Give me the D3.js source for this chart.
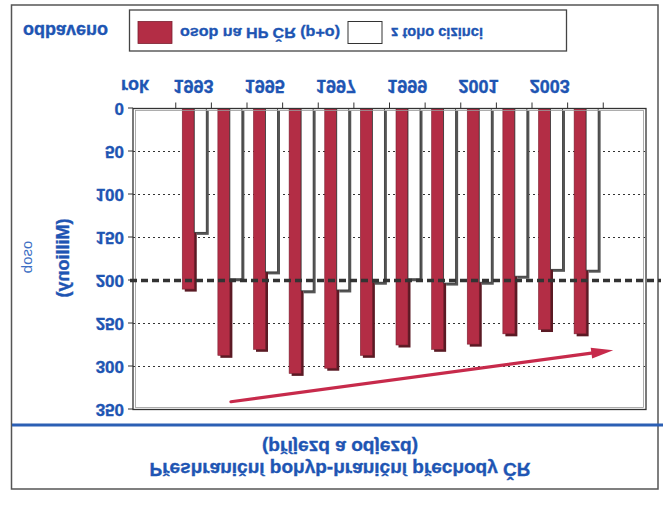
<!DOCTYPE html>
<html>
<head>
<meta charset="utf-8">
<script src="https://cdn.jsdelivr.net/npm/d3@7"></script>
<style>
  body { margin: 0; background: #fff; }
  svg text { font-family: "Liberation Sans", Arial, sans-serif; }
  svg text.heavy { stroke: #1e55b3; stroke-width: 0.35px; }
</style>
</head>
<body>
<svg id="chart" width="667" height="508"></svg>
<script>
/*************************************************************
 *  Data section.
 *************************************************************/

const years = ["1993", "1994", "1995", "1996", "1997", "1998",
               "1999", "2000", "2001", "2002", "2003", "2004"];
// odbaveno osob na HP ČR (p+o), milionů
const osob = [210, 287, 280, 308, 302, 287, 275, 280, 274, 262, 257, 262];
// z toho cizinci
const cizinci = [144, 198, 190, 212, 211, 202, 198, 203, 202, 195, 187, 188];

const yTicks = [0, 50, 100, 150, 200, 250, 300, 350];
const yearLabels = ["1993", "1995", "1997", "1999", "2001", "2003"];
const refValue = 200;
// trend arrow: [year, position inside band (in bands), value]
const trendFrom = ["1994", 0.55, 341];
const trendTo = ["2004", 1.28, 281];

const BLUE = "#1e55b3";
const RED = "#b32d45";

/*************************************************************
 *  Drawing section. The whole picture is a normal chart
 *  mirrored upside down, so everything goes into one flipped group.
 *************************************************************/

const svg = d3.select("#chart");
const g = svg.append("g")
  .attr("transform", "translate(0,508) scale(1,-1)");

const x = d3.scaleBand()
  .domain(years)
  .range([133, 646])
  .paddingInner(0)
  .paddingOuter(1.2);
const bw = x.bandwidth();

const y = d3.scaleLinear()
  .domain([0, 350])
  .range([399.5, 98.5]);

// outer frame
g.append("rect")
  .attr("x", 11.5).attr("y", 19)
  .attr("width", 646.5).attr("height", 484)
  .attr("fill", "none").attr("stroke", "#555").attr("stroke-width", 1.5);

// title
g.append("line")
  .attr("x1", 12).attr("x2", 663)
  .attr("y1", 83).attr("y2", 83)
  .attr("stroke", "#2b5fb4").attr("stroke-width", 3);

g.append("text")
  .attr("class", "heavy")
  .attr("x", 340).attr("y", 67.5)
  .attr("text-anchor", "middle")
  .attr("font-size", 18).attr("font-weight", "bold")
  .attr("fill", BLUE)
  .attr("textLength", 156).attr("lengthAdjust", "spacingAndGlyphs")
  .text("(příjezd a odjezd)");

g.append("text")
  .attr("class", "heavy")
  .attr("x", 340).attr("y", 45.5)
  .attr("text-anchor", "middle")
  .attr("font-size", 18).attr("font-weight", "bold")
  .attr("fill", BLUE)
  .attr("textLength", 381).attr("lengthAdjust", "spacingAndGlyphs")
  .text("Přeshraniční pohyb-hraniční přechody ČR");

// dotted grid (under the bars)
g.append("g")
  .selectAll("line")
  .data(yTicks.filter(d => d > 0 && d < 350 && d !== refValue))
  .join("line")
  .attr("x1", 133).attr("x2", 646)
  .attr("y1", d => y(d)).attr("y2", d => y(d))
  .attr("stroke", "#333").attr("stroke-width", 1)
  .attr("stroke-dasharray", "2,3");

// bars
const bars = g.append("g");
years.forEach((yr, i) => {
  let x0 = x(yr) + 6.5;
  let x1 = x0 + 12;
  // red bar with its shadow
  bars.append("rect")
    .attr("x", x0 + 2.5).attr("y", y(osob[i]) - 2.5)
    .attr("width", 12).attr("height", y(0) - y(osob[i]))
    .attr("fill", "#5a1a24");
  bars.append("rect")
    .attr("x", x0).attr("y", y(osob[i]))
    .attr("width", 12).attr("height", y(0) - y(osob[i]))
    .attr("fill", RED)
    .attr("stroke", "#7a2030").attr("stroke-width", 0.6);
  // white bar with its shadow
  bars.append("rect")
    .attr("x", x1 + 2.5).attr("y", y(cizinci[i]) - 2.5)
    .attr("width", 12).attr("height", y(0) - y(cizinci[i]))
    .attr("fill", "#555");
  bars.append("rect")
    .attr("x", x1).attr("y", y(cizinci[i]))
    .attr("width", 12).attr("height", y(0) - y(cizinci[i]))
    .attr("fill", "#fff")
    .attr("stroke", "#333").attr("stroke-width", 0.8);
});

// plot box (double line)
g.append("rect")
  .attr("x", 133).attr("y", y(350))
  .attr("width", 513).attr("height", y(0) - y(350))
  .attr("fill", "none").attr("stroke", "#333").attr("stroke-width", 1.3);
g.append("rect")
  .attr("x", 135.5).attr("y", y(350) + 2)
  .attr("width", 508).attr("height", y(0) - y(350) - 4)
  .attr("fill", "none").attr("stroke", "#999").attr("stroke-width", 0.8);

// reference line at 200
g.append("line")
  .attr("x1", 130).attr("x2", 661)
  .attr("y1", y(refValue)).attr("y2", y(refValue))
  .attr("stroke", "#333").attr("stroke-width", 3.4)
  .attr("stroke-dasharray", "7,4");

// y axis
const yAxis = g.append("g")
  .attr("transform", "translate(133,0)")
  .call(d3.axisLeft(y).tickValues(yTicks).tickSize(5).tickPadding(4));
yAxis.select(".domain").remove();
yAxis.selectAll("line").attr("stroke", "#333");
yAxis.selectAll("text")
  .attr("class", "heavy")
  .attr("font-size", 17).attr("font-weight", "bold")
  .attr("font-family", "Liberation Sans, Arial, sans-serif")
  .attr("fill", BLUE);

// category ticks on the x axis (band boundaries)
const bounds = years.map(d => x(d)).concat([x(years[years.length - 1]) + bw]);
g.append("g")
  .selectAll("line")
  .data(bounds)
  .join("line")
  .attr("x1", d => d).attr("x2", d => d)
  .attr("y1", y(0)).attr("y2", y(0) + 6)
  .attr("stroke", "#333");

g.append("g")
  .selectAll("text")
  .data(yearLabels)
  .join("text")
  .attr("class", "heavy")
  .attr("x", d => x(d) + bw / 2)
  .attr("y", 428)
  .attr("text-anchor", "middle")
  .attr("font-size", 18).attr("font-weight", "bold")
  .attr("fill", BLUE)
  .text(d => d);

g.append("text")
  .attr("class", "heavy")
  .attr("x", 121).attr("y", 428)
  .attr("font-size", 18).attr("font-weight", "bold")
  .attr("fill", BLUE)
  .text("rok");

// y axis titles
g.append("text")
  .attr("class", "heavy")
  .attr("transform", "translate(63,250) rotate(-90)")
  .attr("text-anchor", "middle").attr("dominant-baseline", "central")
  .attr("font-size", 18).attr("font-weight", "bold")
  .attr("fill", BLUE)
  .text("(Milliony)");

g.append("text")
  .attr("transform", "translate(26,251) rotate(-90)")
  .attr("text-anchor", "middle").attr("dominant-baseline", "central")
  .attr("font-size", 15)
  .attr("fill", "#3d6fc4")
  .text("osob");

// trend arrow
const p0 = [x(trendFrom[0]) + trendFrom[1] * bw, y(trendFrom[2])];
const p1 = [x(trendTo[0]) + trendTo[1] * bw, y(trendTo[2])];
const ang = Math.atan2(p1[1] - p0[1], p1[0] - p0[0]);
const headLen = 22, headW = 5.5;
const base = [p1[0] - headLen * Math.cos(ang), p1[1] - headLen * Math.sin(ang)];
g.append("line")
  .attr("x1", p0[0]).attr("y1", p0[1])
  .attr("x2", base[0]).attr("y2", base[1])
  .attr("stroke", "#c72a4b").attr("stroke-width", 3.2)
  .attr("stroke-linecap", "round");
g.append("polygon")
  .attr("points", [
    p1,
    [base[0] - headW * Math.sin(ang), base[1] + headW * Math.cos(ang)],
    [base[0] + headW * Math.sin(ang), base[1] - headW * Math.cos(ang)]
  ].map(p => p.join(",")).join(" "))
  .attr("fill", "#c72a4b");

// legend
g.append("text")
  .attr("class", "heavy")
  .attr("x", 23).attr("y", 483)
  .attr("font-size", 18).attr("font-weight", "bold")
  .attr("fill", BLUE)
  .text("odbaveno");

g.append("rect")
  .attr("x", 129.5).attr("y", 457)
  .attr("width", 437).attr("height", 41)
  .attr("fill", "none").attr("stroke", "#444").attr("stroke-width", 1.3);

g.append("rect")
  .attr("x", 138).attr("y", 464.5).attr("width", 34).attr("height", 22)
  .attr("fill", RED).attr("stroke", "#7a2030").attr("stroke-width", 0.8);
g.append("text")
  .attr("class", "heavy")
  .attr("x", 180).attr("y", 480.5)
  .attr("font-size", 15.5).attr("font-weight", "bold")
  .attr("fill", BLUE)
  .attr("textLength", 160).attr("lengthAdjust", "spacingAndGlyphs")
  .text("osob na HP ČR (p+o)");

g.append("rect")
  .attr("x", 348).attr("y", 464.5).attr("width", 34).attr("height", 22)
  .attr("fill", "#fff").attr("stroke", "#333").attr("stroke-width", 1);
g.append("text")
  .attr("class", "heavy")
  .attr("x", 391).attr("y", 480.5)
  .attr("font-size", 15.5).attr("font-weight", "bold")
  .attr("fill", BLUE)
  .attr("textLength", 92).attr("lengthAdjust", "spacingAndGlyphs")
  .text("z toho cizinci");
</script>
</body>
</html>
